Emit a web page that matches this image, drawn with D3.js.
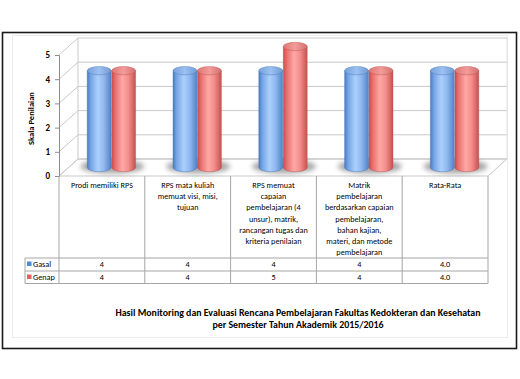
<!DOCTYPE html>
<html><head><meta charset="utf-8">
<script src="https://cdn.jsdelivr.net/npm/d3@7/dist/d3.min.js"></script>
<style>
html,body{margin:0;padding:0;background:#fff;}
svg{display:block;}
text{font-family:"Carlito","Liberation Sans Narrow","Liberation Sans",sans-serif;fill:#000;}
</style></head>
<body>
<script>
// ---- data ----
const categories = ["Prodi memiliki RPS","RPS mata kuliah memuat visi, misi, tujuan","RPS memuat capaian pembelajaran (4 unsur), matrik, rancangan tugas dan kriteria penilaian","Matrik pembelajaran berdasarkan capaian pembelajaran, bahan kajian, materi, dan metode pembelajaran","Rata-Rata"];
const categoryLines = [
  ["Prodi memiliki RPS"],
  ["RPS mata kuliah","memuat visi, misi,","tujuan"],
  ["RPS memuat","capaian","pembelajaran (4","unsur), matrik,","rancangan tugas dan","kriteria penilaian"],
  ["Matrik","pembelajaran","berdasarkan capaian","pembelajaran,","bahan kajian,","materi, dan metode","pembelajaran"],
  ["Rata-Rata"]
];
const seriesNames = ["Gasal","Genap"];
const gasal = [4,4,4,4,4.0];
const genap = [4,4,5,4,4.0];
const yTicks = [0,1,2,3,4,5];
const yLabel = "Skala Penilaian";
const titleLines = ["Hasil Monitoring dan Evaluasi Rencana Pembelajaran Fakultas Kedokteran dan Kesehatan","per Semester Tahun Akademik 2015/2016"];

// ---- layout ----
const W=520,H=379;
const svg=d3.select("body").append("svg").attr("width",W).attr("height",H);
const defs=svg.append("defs");

svg.append("rect").attr("x",2.5).attr("y",32.5).attr("width",514).attr("height",316)
  .attr("fill","#fff").attr("stroke","#1a1a1a").attr("stroke-width",1.6);
svg.append("rect").attr("x",12.5).attr("y",35.5).attr("width",495).attr("height",302)
  .attr("fill","#fff").attr("stroke","#ececec");

const x0=59,x1=488;            // front plane
const DX=19,DY=-17;            // depth offset
const depthF=0.5;              // bar depth position
const yF=d3.scaleLinear().domain([0,5]).range([176,55]);
const yB=v=>yF(v)+DY;
const xBand=d3.scaleBand().domain(d3.range(categories.length)).range([x0,x1]);
const xSeries=d3.scaleBand().domain(seriesNames).range([-24.5,24.5]).padding(0);
const series=[gasal,genap];

// gridlines (back wall + left side wall) and floor
const g=svg.append("g");
const gridC="#c9c9c9";
g.append("path").attr("d",`M${x0},${yF(0)}L${x0+DX},${yB(0)}L${x1+DX},${yB(0)}L${x1},${yF(0)}Z`)
  .attr("fill","#fff").attr("stroke",gridC);
yTicks.forEach(t=>{
  g.append("line").attr("x1",x0+DX).attr("x2",x1+DX).attr("y1",yB(t)).attr("y2",yB(t)).attr("stroke",gridC);
  g.append("line").attr("x1",x0).attr("x2",x0+DX).attr("y1",yF(t)).attr("y2",yB(t)).attr("stroke",gridC);
});
g.append("line").attr("x1",x0+DX).attr("x2",x0+DX).attr("y1",yB(5)).attr("y2",yB(0)).attr("stroke",gridC);
g.append("line").attr("x1",x1+DX).attr("x2",x1+DX).attr("y1",yB(5)).attr("y2",yB(0)).attr("stroke","#e0e0e0");

// front vertical axis
const ax=svg.append("g").attr("transform",`translate(${x0},0)`)
  .call(d3.axisLeft(yF).tickValues(yTicks).tickSize(4).tickPadding(5).tickFormat(d3.format("d")));
ax.select(".domain").attr("stroke","#8c8c8c");
ax.selectAll(".tick line").attr("stroke","#8c8c8c");
ax.selectAll("text").attr("font-size",9).attr("font-weight","bold").attr("fill","#000");

svg.append("text").attr("transform",`translate(34,${(yF(0)+yF(5))/2+3}) rotate(-90)`)
  .attr("text-anchor","middle").attr("font-size",8.5).attr("font-weight","bold").text(yLabel);

// gradients
const blur=defs.append("filter").attr("id","sh").attr("x","-50%").attr("y","-100%").attr("width","200%").attr("height","300%");
blur.append("feGaussianBlur").attr("stdDeviation",2.5);
function grad(id,stops){
  const lg=defs.append("linearGradient").attr("id",id).attr("x1",0).attr("x2",1).attr("y1",0).attr("y2",0);
  stops.forEach(s=>lg.append("stop").attr("offset",s[0]).attr("stop-color",s[1]));
}
grad("gB",[[0,"#4a7cc2"],[0.15,"#75a5e6"],[0.45,"#acd0fc"],[0.7,"#8fb8f0"],[1,"#5183c8"]]);
grad("gR",[[0,"#cc4c49"],[0.15,"#e6716e"],[0.45,"#ffa8a6"],[0.7,"#f28e8b"],[1,"#c6524f"]]);
grad("tB",[[0,"#77a1da"],[0.5,"#9cc1f2"],[1,"#719bd4"]]);
grad("tR",[[0,"#db7875"],[0.5,"#f39c9a"],[1,"#d2716e"]]);
const fills=[["url(#gB)","url(#tB)","#4272b3"],["url(#gR)","url(#tR)","#bb4845"]];

// shadows
const bars=svg.append("g");
categories.forEach((c,i)=>{
  const cx=xBand(i)+xBand.bandwidth()/2+DX*depthF;
  const yb=yF(0)+DY*depthF;
  bars.append("ellipse").attr("cx",cx+1).attr("cy",yb-1).attr("rx",32).attr("ry",7)
    .attr("fill","#6e6e6e").attr("opacity",0.6).attr("filter","url(#sh)");
});
// cylinders
const ry=4.2;
categories.forEach((c,i)=>{
  series.forEach((s,k)=>{
    const w=xSeries.bandwidth();
    const cx=xBand(i)+xBand.bandwidth()/2+DX*depthF+xSeries(seriesNames[k])+w/2;
    const rx=w/2-0.3;
    const yt=yF(s[i])+DY*depthF, yb=yF(0)+DY*depthF;
    bars.append("path")
      .attr("d",`M${cx-rx},${yt}L${cx-rx},${yb}A${rx},${ry} 0 0 0 ${cx+rx},${yb}L${cx+rx},${yt}Z`)
      .attr("fill",fills[k][0]).attr("stroke",fills[k][2]).attr("stroke-width",0.4);
    bars.append("ellipse").attr("cx",cx).attr("cy",yt).attr("rx",rx).attr("ry",ry)
      .attr("fill",fills[k][1]).attr("stroke",fills[k][2]).attr("stroke-width",0.4);
  });
});

// data table
const tb=svg.append("g");
const tC="#a6a6a6";
const rowTop=176, hdrBot=258, r1=271, r2=283.5, legX=25;
tb.append("path").attr("d",`M${x0},${rowTop}V${r2}M${x1},${rowTop}V${r2}M${legX},${hdrBot}V${r2}M${legX},${hdrBot}H${x1}M${legX},${r1}H${x1}M${legX},${r2}H${x1}`)
  .attr("stroke",tC).attr("fill","none");
const fs=8.2;
categories.forEach((c,i)=>{
  if(i>0) tb.append("line").attr("x1",xBand(i)).attr("x2",xBand(i)).attr("y1",rowTop).attr("y2",r2).attr("stroke",tC);
  const cx=xBand(i)+xBand.bandwidth()/2;
  const t=tb.append("text").attr("text-anchor","middle").attr("font-size",fs);
  categoryLines[i].forEach((ln,j)=>t.append("tspan").attr("x",cx).attr("y",188+j*11.2).text(ln));
  series.forEach((s,k)=>{
    tb.append("text").attr("x",cx).attr("y",(k===0?hdrBot:r1)+9.3).attr("text-anchor","middle").attr("font-size",fs)
      .text(i===categories.length-1? s[i].toFixed(1): s[i]);
  });
});
// legend keys
[["#4f8ad6"],["#e8605c"]].forEach((c,k)=>{
  const yy=(k===0?hdrBot:r1);
  tb.append("rect").attr("x",legX+2).attr("y",yy+3.5).attr("width",4.5).attr("height",4.5).attr("fill",c[0]);
  tb.append("text").attr("x",legX+8).attr("y",yy+9.3).attr("font-size",fs).text(seriesNames[k]);
});

// title
const tt=svg.append("text").attr("text-anchor","middle").attr("font-size",9.9).attr("font-weight","bold");
titleLines.forEach((l,j)=>tt.append("tspan").attr("x",298).attr("y",315.5+j*12).text(l));
</script>
</body></html>
